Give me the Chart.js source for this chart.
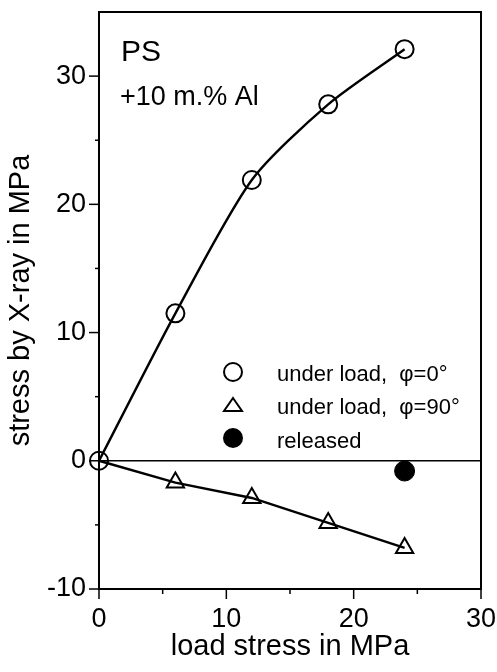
<!DOCTYPE html>
<html>
<head>
<meta charset="utf-8">
<script src="https://cdn.jsdelivr.net/npm/chart.js@4.4.1/dist/chart.umd.min.js"></script>
<style>
  html, body { margin: 0; padding: 0; background: #fff; }
</style>
</head>
<body>
<canvas id="chart" width="497" height="672"></canvas>
<script>
// load stress in MPa
const loadStress = [0, 6, 12, 18, 24];
// stress by X-ray, under load
const phi0 = [0, 11.5, 21.9, 27.8, 32.1];
const phi90 = [0, -1.7, -2.9, -4.85, -6.8];
// after release
const releasedX = [24];
const releasedY = [-0.8];
// labelled ticks
const xTickLabels = [0, 10, 20, 30];
const yTickLabels = [-10, 0, 10, 20, 30];

const FONT = '"Liberation Sans", Arial, sans-serif';

const pts = (xs, ys) => xs.map((x, i) => ({ x, y: ys[i] }));

// frame, tick marks, legend and sample label
const decor = {
  id: 'decor',
  afterDraw(chart) {
    const { ctx, chartArea: a, scales } = chart;
    ctx.save();
    ctx.strokeStyle = '#000';
    ctx.lineWidth = 2;
    ctx.beginPath();
    ctx.moveTo(a.left, a.top);
    ctx.lineTo(a.right, a.top);
    ctx.lineTo(a.right, a.bottom);
    ctx.stroke();

    // outward ticks, long at labelled values
    ctx.lineWidth = 1.5;
    scales.x.ticks.forEach(t => {
      const px = scales.x.getPixelForValue(t.value);
      const len = xTickLabels.includes(t.value) ? 10 : 5;
      ctx.beginPath();
      ctx.moveTo(px, a.bottom);
      ctx.lineTo(px, a.bottom + len);
      ctx.stroke();
    });
    scales.y.ticks.forEach(t => {
      if (t.value >= scales.y.max) return;
      const py = scales.y.getPixelForValue(t.value);
      const len = yTickLabels.includes(t.value) ? 10 : 4;
      ctx.beginPath();
      ctx.moveTo(a.left, py);
      ctx.lineTo(a.left - len, py);
      ctx.stroke();
    });

    // sample label
    ctx.fillStyle = '#000';
    ctx.textBaseline = 'alphabetic';
    ctx.font = '30px ' + FONT;
    ctx.fillText('PS', 121, 61);
    ctx.font = '27px ' + FONT;
    ctx.fillText('+10 m.% Al', 120, 105);

    // legend
    const lx = 233, tx = 277;
    ctx.lineWidth = 2;
    ctx.beginPath();
    ctx.arc(lx, 372, 9, 0, Math.PI * 2);
    ctx.stroke();
    ctx.beginPath();
    ctx.moveTo(lx, 398);
    ctx.lineTo(lx + 9, 411);
    ctx.lineTo(lx - 9, 411);
    ctx.closePath();
    ctx.stroke();
    ctx.beginPath();
    ctx.arc(lx, 438, 10, 0, Math.PI * 2);
    ctx.fill();
    ctx.font = '22px ' + FONT;
    ctx.fillText('under load,  \u03C6=0\u00B0', tx, 381);
    ctx.fillText('under load,  \u03C6=90\u00B0', tx, 414);
    ctx.fillText('released', tx, 448);
    ctx.restore();
  }
};

new Chart(document.getElementById('chart'), {
  type: 'scatter',
  data: {
    datasets: [
      {
        data: pts(loadStress, phi0),
        showLine: true,
        tension: 0.25,
        borderColor: '#000',
        borderWidth: 2.4,
        pointStyle: 'circle',
        pointRadius: 9,
        pointBorderWidth: 2,
        pointBackgroundColor: 'transparent',
        pointBorderColor: '#000',
        clip: false,
      },
      {
        data: pts(loadStress, phi90),
        showLine: true,
        borderColor: '#000',
        borderWidth: 2.4,
        pointStyle: 'triangle',
        pointRadius: (c) => (c.dataIndex === 0 ? 0 : 10),
        pointBorderWidth: 2,
        pointBackgroundColor: 'transparent',
        pointBorderColor: '#000',
        clip: false,
      },
      {
        data: pts(releasedX, releasedY),
        pointStyle: 'circle',
        pointRadius: 10,
        pointBackgroundColor: '#000',
        pointBorderColor: '#000',
        clip: false,
      },
    ],
  },
  options: {
    responsive: false,
    animation: false,
    events: [],
    layout: { padding: { top: 11, right: 16, left: 0, bottom: 0 } },
    plugins: { legend: { display: false }, tooltip: { enabled: false } },
    scales: {
      x: {
        type: 'linear',
        min: 0,
        max: 30,
        afterFit: (s) => { s.height = 83; s.paddingLeft = 0; s.paddingRight = 0; },
        border: { color: '#000', width: 2 },
        grid: { display: false, drawTicks: false },
        ticks: {
          stepSize: 5,
          padding: 14,
          color: '#000',
          font: { family: FONT, size: 27 },
          maxRotation: 0,
          autoSkip: false,
          callback: (v) => (xTickLabels.includes(v) ? v : ''),
        },
        title: {
          display: true,
          text: 'load stress in MPa',
          color: '#000',
          font: { family: FONT, size: 29 },
          padding: { top: 0, bottom: 8 },
        },
      },
      y: {
        type: 'linear',
        min: -10,
        max: 35,
        afterFit: (s) => { s.width = 99; s.paddingTop = 0; s.paddingBottom = 0; },
        border: { color: '#000', width: 2 },
        grid: {
          drawTicks: false,
          color: (c) => (c.tick && c.tick.value === 0 ? '#000' : 'transparent'),
          lineWidth: 1.5,
        },
        ticks: {
          stepSize: 5,
          padding: 13,
          color: '#000',
          font: { family: FONT, size: 27 },
          autoSkip: false,
          callback: (v) => (yTickLabels.includes(v) ? v : ''),
        },
        title: {
          display: true,
          text: 'stress by X-ray in MPa',
          color: '#000',
          font: { family: FONT, size: 29 },
          padding: { top: 4, bottom: 0 },
        },
      },
    },
  },
  plugins: [decor],
});
</script>
</body>
</html>
